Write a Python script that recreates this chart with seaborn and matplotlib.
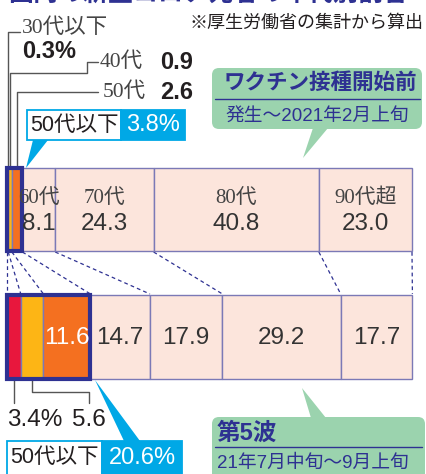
import numpy as np
import seaborn as sns
import matplotlib.pyplot as plt
from matplotlib.patches import Rectangle, FancyBboxPatch, Polygon

# data: share of deaths by age group (%)
ages = ['30代以下', '40代', '50代', '60代', '70代', '80代', '90代超']
before = [0.3, 0.9, 2.6, 8.1, 24.3, 40.8, 23.0]   # 発生～2021年2月上旬
wave5 = [3.4, 5.6, 11.6, 14.7, 17.9, 29.2, 17.7]  # 第5波
under50 = ['3.8%', '20.6%']

sns.set_theme(style='white')
plt.rcParams['font.family'] = ['Liberation Sans', 'Noto Sans CJK JP']
SERIF = ['Liberation Serif', 'Noto Sans CJK JP']

NAVY = '#2E3192'
CYAN = '#00A8E6'
GREEN = '#9BD3AE'
EDGE = '#7B79B6'
TXT = '#231F20'
colors = ['#E8173D', '#FDB515', '#F47020'] + ['#FCE5DC'] * 4

fig = plt.figure(figsize=(4.26, 4.74), dpi=100)
# data axes: x = percent (0..100 -> px 7..412), y = pixels from top
X0, SC = 7, 4.05
ax = fig.add_axes([0, 0, 1, 1])
ax.set_xlim(-X0 / SC, (426 - X0) / SC)
ax.set_ylim(474, 0)
ax.axis('off')
# overlay axes in pixels for annotations
ov = fig.add_axes([0, 0, 1, 1])
ov.set_xlim(0, 426)
ov.set_ylim(474, 0)
ov.axis('off')
ov.patch.set_alpha(0)


def pct(px):
    return (px - X0) / SC


bars = [(before, 168, 251), (wave5, 295, 379)]
cums = []
for vals, y0, y1 in bars:
    left = np.concatenate([[0], np.cumsum(vals)[:-1]])
    cums.append(np.concatenate([[0], np.cumsum(vals)]))
    ax.barh((y0 + y1) / 2, vals, left=left, height=y1 - y0, color=colors,
            edgecolor=EDGE, linewidth=1, zorder=2)
    ax.add_patch(Rectangle((0, y0), sum(vals[:3]), y1 - y0, fill=False,
                           edgecolor=NAVY, linewidth=3, zorder=4))

# dashed connectors between the two bars
for a, b in zip(cums[0], cums[1]):
    ax.plot([a, b], [252, 294], color=NAVY, lw=0.9, ls=(0, (3, 2.5)), zorder=1)

# labels inside top bar
ct = (cums[0][:-1] + cums[0][1:]) / 2
for i in range(3, 7):
    ax.text(ct[i], 198, ages[i], ha='center', va='center', fontsize=15,
            family=SERIF, color='#444444', zorder=5)
    ax.text(ct[i], 224, f'{before[i]:.1f}', ha='center', va='center',
            fontsize=17.5, color='#333333', zorder=5)

# labels inside bottom bar
cb = (cums[1][:-1] + cums[1][1:]) / 2
for i in range(2, 7):
    ax.text(cb[i], 338, f'{wave5[i]:.1f}', ha='center', va='center', fontsize=17.5,
            color='white' if i == 2 else '#333333', zorder=5)

# leader lines (top)
lk = dict(color='#555555', lw=1, zorder=3)
ax.plot([ct[0], ct[0], pct(20)], [168, 32, 32], **lk)
ax.plot([ct[1], ct[1], pct(87), pct(87), pct(98)], [168, 73, 73, 62, 62], **lk)
ax.plot([ct[2], ct[2], pct(98)], [168, 92, 92], **lk)
# leader lines (bottom)
ax.plot([cb[0], cb[0]], [380, 403], **lk)
ax.plot([cb[1], cb[1], pct(89), pct(89)], [380, 392, 392, 403], **lk)

# title (cut off at top) and note
ov.text(8, 6, '国内の新型コロナ死者の年代別割合', va='bottom', ha='left',
        fontsize=18, weight='bold', color=NAVY)
ov.text(424, 23, '※厚生労働省の集計から算出', ha='right', va='center',
        fontsize=13, color=TXT)

# small-group labels (top)
ov.text(22, 28, ages[0], ha='left', va='center', fontsize=15.5, family=SERIF, color='#444444')
ov.text(22, 51, f'{before[0]}%', ha='left', va='center', fontsize=17, weight='bold', color=TXT)
ov.text(100, 62, ages[1], ha='left', va='center', fontsize=15.5, family=SERIF, color='#444444')
ov.text(160, 62, f'{before[1]}', ha='left', va='center', fontsize=17, weight='bold', color=TXT)
ov.text(103, 92, ages[2], ha='left', va='center', fontsize=15.5, family=SERIF, color='#444444')
ov.text(160, 92, f'{before[2]}', ha='left', va='center', fontsize=17, weight='bold', color=TXT)

# small-group labels (bottom)
ov.text(35, 420, f'{wave5[0]}%', ha='center', va='center', fontsize=17.5, color=TXT)
ov.text(89, 420, f'{wave5[1]}', ha='center', va='center', fontsize=17.5, color=TXT)

# "50代以下" boxes
for (bx0, by0, bx1, bx2, by1), txt, tri in [
        ((27, 110, 121, 185, 140), under50[0], [(33, 140), (48, 140), (26, 168)]),
        ((7, 441, 102, 182, 476), under50[1], [(124, 441), (140, 441), (95, 380)])]:
    ov.add_patch(Polygon(tri, closed=True, color=CYAN, lw=0, zorder=2))
    ov.add_patch(Rectangle((bx0, by0), bx1 - bx0, by1 - by0, facecolor='white',
                           edgecolor=CYAN, lw=1.3, zorder=3))
    ov.add_patch(Rectangle((bx1, by0), bx2 - bx1, by1 - by0, facecolor=CYAN,
                           edgecolor=CYAN, lw=1.3, zorder=3))
    cy = (by0 + min(by1, 474)) / 2
    ov.text((bx0 + bx1) / 2, cy, '50代以下', ha='center', va='center',
            fontsize=15.5, color=TXT, zorder=4)
    ov.text((bx1 + bx2) / 2, cy, txt, ha='center', va='center',
            fontsize=17, color='white', zorder=4)

# green callouts
ov.add_patch(Polygon([(313, 128), (328, 128), (303, 158)], closed=True,
                     color=GREEN, lw=0, zorder=2))
ov.add_patch(FancyBboxPatch((212, 68), 210, 61, boxstyle='round,pad=0,rounding_size=7',
                            facecolor=GREEN, edgecolor='none', zorder=2))
ov.text(320, 83, 'ワクチン接種開始前', ha='center', va='center', fontsize=15.5,
        weight='bold', color=NAVY, zorder=3)
ov.plot([215, 420], [99, 99], color=NAVY, lw=1, zorder=3)
ov.text(317, 116, '発生～2021年2月上旬', ha='center', va='center', fontsize=13.5,
        color=NAVY, zorder=3)

ov.add_patch(Polygon([(311, 418), (326, 418), (302, 388)], closed=True,
                     color=GREEN, lw=0, zorder=2))
ov.add_patch(FancyBboxPatch((212, 417), 213, 70, boxstyle='round,pad=0,rounding_size=7',
                            facecolor=GREEN, edgecolor='none', zorder=2))
ov.text(217, 433, '第5波', ha='left', va='center', fontsize=17,
        weight='bold', color=NAVY, zorder=3)
ov.plot([215, 422], [447, 447], color=NAVY, lw=1, zorder=3)
ov.text(217, 463, '21年7月中旬～9月上旬', ha='left', va='center', fontsize=13.5,
        color=NAVY, zorder=3)

fig.savefig('out.png', dpi=100)
